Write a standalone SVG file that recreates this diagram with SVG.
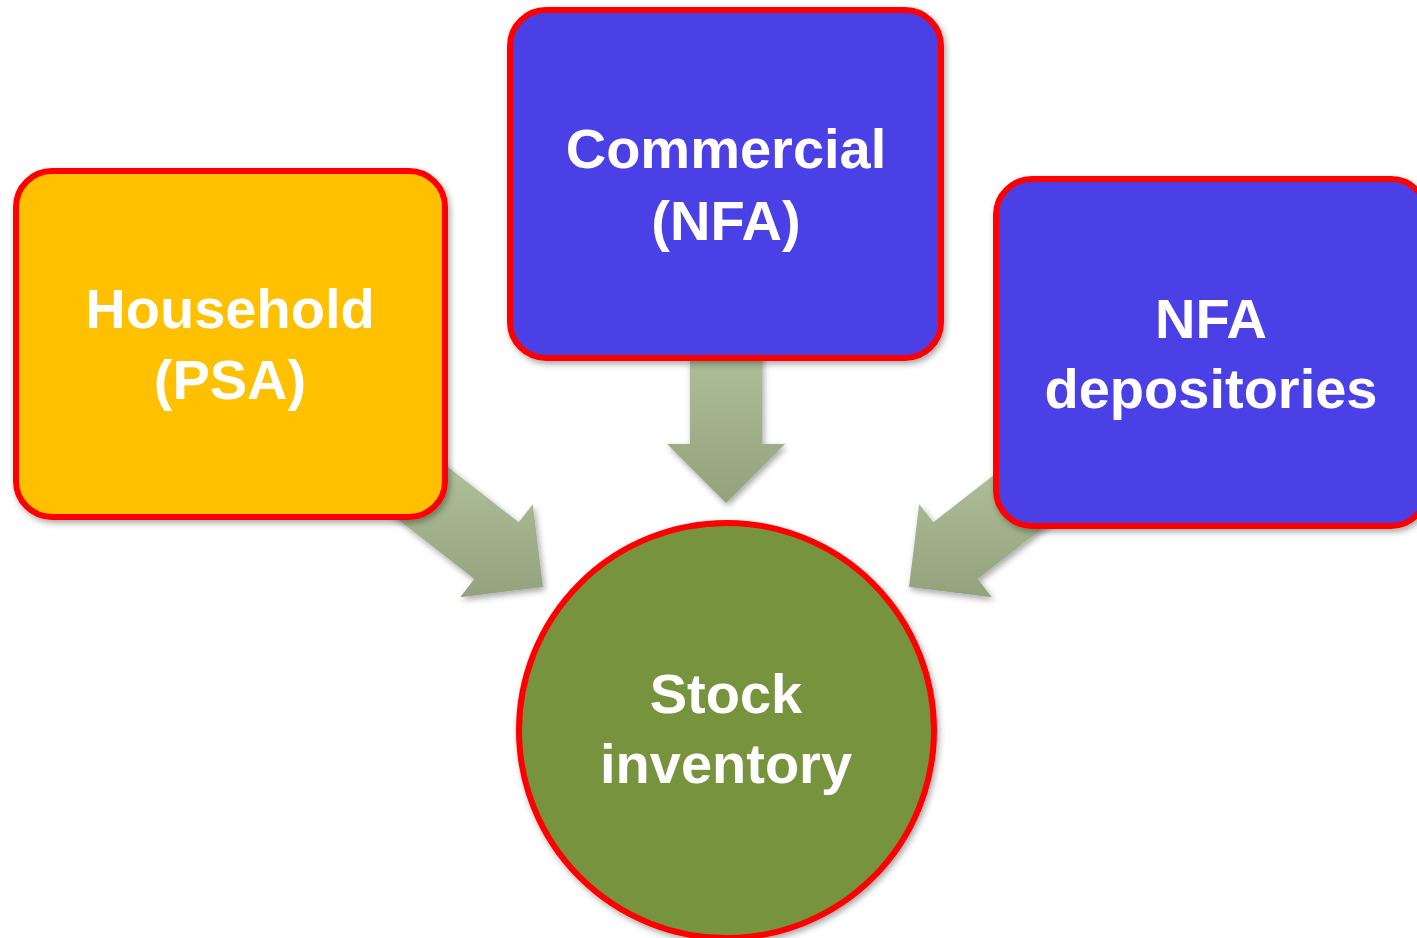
<svg xmlns="http://www.w3.org/2000/svg" width="1417" height="938" viewBox="0 0 1417 938">
<defs>
<linearGradient id="ag" x1="0" y1="0" x2="0" y2="1">
<stop offset="0" stop-color="#b2c29b"/>
<stop offset="1" stop-color="#93a27d"/>
</linearGradient>
<filter id="sh" x="-20%" y="-20%" width="140%" height="140%">
<feDropShadow dx="2" dy="3" stdDeviation="3" flood-color="#000" flood-opacity="0.35"/>
</filter>
</defs>
<style>
.box{stroke:#ff0000;stroke-width:6;filter:url(#sh)}
.arr{fill:url(#ag);filter:url(#sh)}
.t{font-family:"Liberation Sans",Arial,sans-serif;font-weight:bold;font-size:56px;fill:#ffffff;text-anchor:middle}
</style>
<rect width="1417" height="938" fill="#ffffff"/>
<g id="connectors">
<path class="arr" d="M690,333 L762,333 L762,444 L785,444 L726,503 L667,444 L690,444 Z"/>
<path class="arr" d="M386.9,510.7 L431.2,454 L518.7,522.3 L532.8,504.2 L543,587 L460.2,597.2 L474.3,579 Z"/>
<path class="arr" d="M1065.1,510.7 L1020.8,454 L933.3,522.3 L919.2,504.2 L909,587 L991.8,597.2 L977.7,579 Z"/>
</g>
<g id="household">
<rect class="box" x="16" y="171" width="429" height="346" rx="36" fill="#ffc000"/>
<text class="t" x="230" y="328">Household</text>
<text class="t" x="230" y="399">(PSA)</text>
</g>
<g id="commercial">
<rect class="box" x="510" y="10" width="431" height="348" rx="36" fill="#4c41e6"/>
<text class="t" x="726" y="168">Commercial</text>
<text class="t" x="726" y="240">(NFA)</text>
</g>
<g id="nfa-depositories">
<rect class="box" x="996" y="179" width="431" height="347" rx="36" fill="#4c41e6"/>
<text class="t" x="1211" y="338">NFA</text>
<text class="t" x="1211" y="408">depositories</text>
</g>
<g id="stock-inventory">
<circle class="box" cx="726.5" cy="730.5" r="207.5" fill="#77933c"/>
<text class="t" x="726" y="713">Stock</text>
<text class="t" x="726" y="783">inventory</text>
</g>
</svg>
